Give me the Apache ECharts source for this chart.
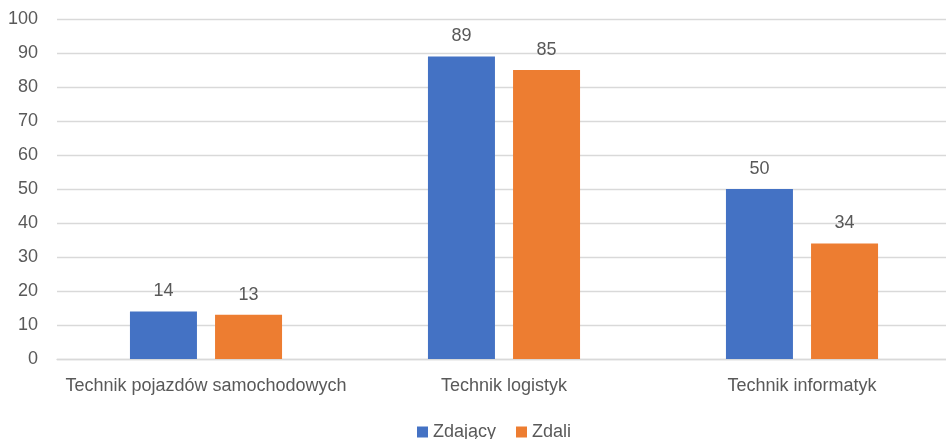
<!DOCTYPE html>
<html>
<head>
<meta charset="utf-8">
<script src="https://cdn.jsdelivr.net/npm/echarts@6/dist/echarts.min.js"></script>
<style>
  html, body { margin: 0; padding: 0; background: #fff; }
  #chart { width: 946px; height: 439px; }
</style>
</head>
<body>
<div id="chart"></div>
<script>
// Exam results by vocational profile
const categories = ['Technik pojazdów samochodowych', 'Technik logistyk', 'Technik informatyk'];
const zdajacy = [14, 89, 50];
const zdali = [13, 85, 34];
const seriesNames = ['Zdający', 'Zdali'];

const FONT = 'Liberation Sans, Arial, sans-serif';
const TEXT = '#595959';
const SIZE = 18;

const chart = echarts.init(document.getElementById('chart'), null, { renderer: 'canvas' });

const labelStyle = {
  show: true,
  position: 'top',
  distance: 11,
  color: TEXT,
  fontFamily: FONT,
  fontSize: SIZE
};

chart.setOption({
  animation: false,
  textStyle: { fontFamily: FONT },
  grid: { left: 57, top: 19, width: 894, bottom: 80, containLabel: false, outerBoundsMode: 'none' },
  legend: {
    top: 418,
    left: 412,
    itemWidth: 11,
    itemHeight: 11,
    itemGap: 20,
    icon: 'rect',
    textStyle: { color: TEXT, fontSize: SIZE, fontFamily: FONT },
    data: seriesNames
  },
  xAxis: {
    type: 'category',
    data: categories,
    axisLine: { show: true, lineStyle: { color: '#d9d9d9', width: 1.3 } },
    axisTick: { show: false },
    axisLabel: { color: TEXT, fontSize: SIZE, fontFamily: FONT, margin: 18, interval: 0 }
  },
  yAxis: {
    type: 'value',
    min: 0,
    max: 100,
    interval: 10,
    axisLine: { show: false },
    axisTick: { show: false },
    axisLabel: { color: TEXT, fontSize: SIZE, fontFamily: FONT, margin: 19 },
    splitLine: { lineStyle: { color: '#d9d9d9', width: 1.3 } }
  },
  series: [
    {
      name: seriesNames[0],
      type: 'bar',
      data: zdajacy,
      barWidth: 67,
      barGap: '27%',
      itemStyle: { color: '#4472c4' },
      label: labelStyle
    },
    {
      name: seriesNames[1],
      type: 'bar',
      data: zdali,
      barWidth: 67,
      barGap: '27%',
      itemStyle: { color: '#ed7d31' },
      label: labelStyle
    }
  ]
});
</script>
</body>
</html>
